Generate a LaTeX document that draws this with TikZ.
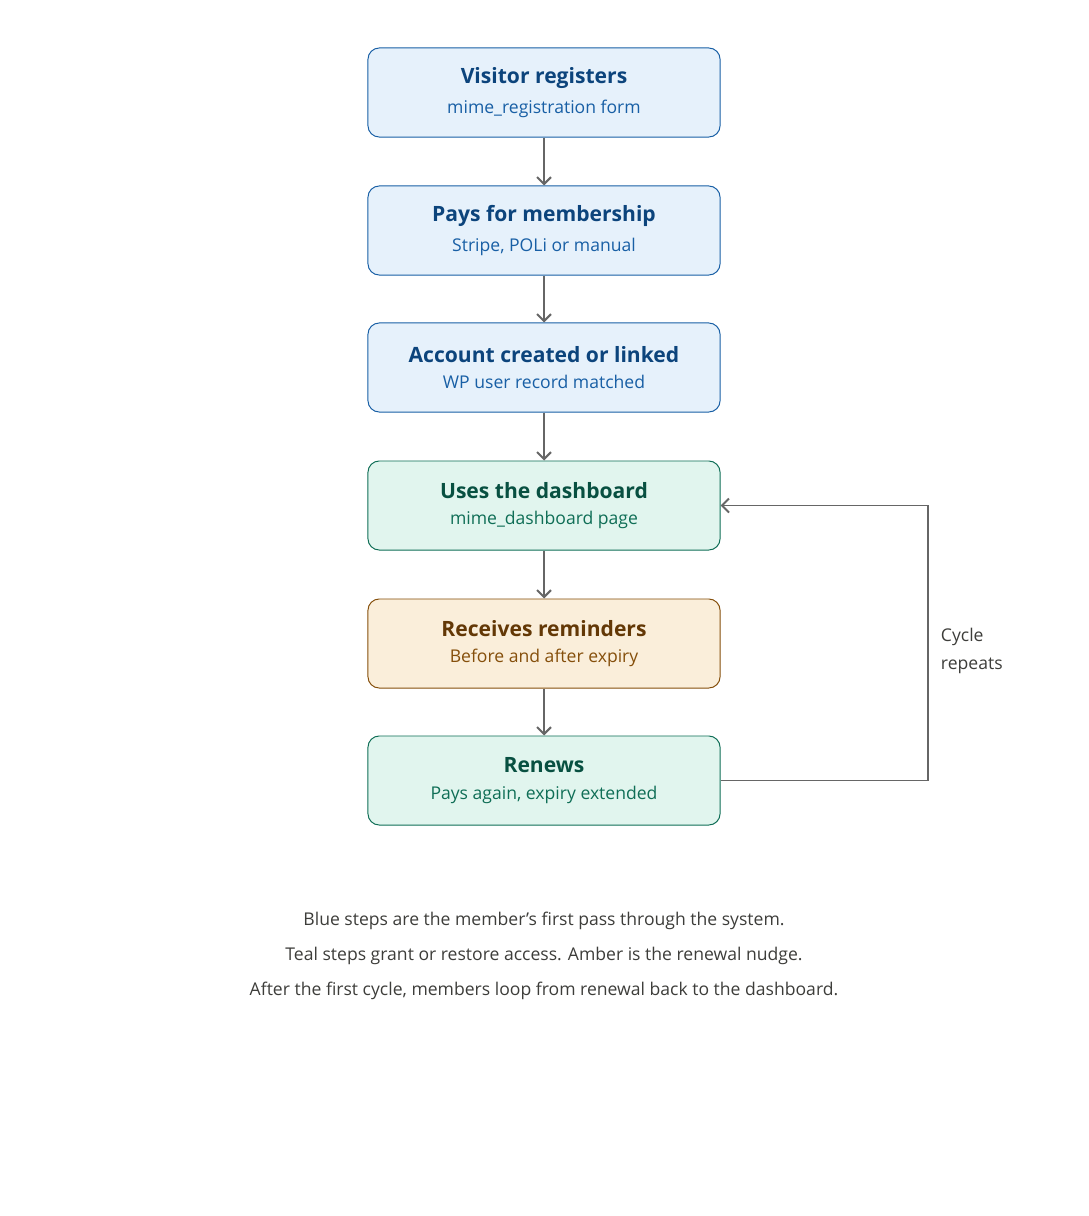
\documentclass[tikz,border=0pt]{standalone}
\usepackage{fontspec}
\setmainfont{Open Sans}
\usetikzlibrary{arrows.meta,positioning}
\definecolor{bluefill}{HTML}{E6F1FB}\definecolor{blueline}{HTML}{185FA5}\definecolor{bluetext}{HTML}{0C447C}
\definecolor{tealfill}{HTML}{E1F5EE}\definecolor{tealline}{HTML}{0F6E56}\definecolor{tealtext}{HTML}{085041}
\definecolor{ambfill}{HTML}{FAEEDA}\definecolor{ambline}{HTML}{854F0B}\definecolor{ambtext}{HTML}{633806}
\definecolor{linkgray}{HTML}{666666}\definecolor{captext}{HTML}{3D3D3A}
\tikzset{
  flowbox/.style={draw, rounded corners=8pt, line width=0.7pt, minimum width=8.8cm, minimum height=2.225cm, align=center},
  bluestep/.style={flowbox, fill=bluefill, draw=blueline},
  tealstep/.style={flowbox, fill=tealfill, draw=tealline},
  ambstep/.style={flowbox, fill=ambfill, draw=ambline},
  link/.style={draw=linkgray, line width=1.4pt, -{Straight Barb[length=5pt,width=10pt]}},
  caption/.style={text=captext, font=\fontsize{12.5}{15}\selectfont}
}
\newcommand{\steptext}[4]{\textcolor{#1}{\fontsize{15}{18}\selectfont\bfseries #3}\\[7pt]\textcolor{#2}{\fontsize{12.5}{15}\selectfont #4}}
\begin{document}
\begin{tikzpicture}[x=0.025cm,y=-0.025cm]
  \useasboundingbox (0,0) rectangle (1088,1216);
  \node[bluestep] (reg) at (544,92.5) {\steptext{bluetext}{blueline}{Visitor registers}{mime\_registration form}};
  \node[bluestep] (pay) at (544,230.5) {\steptext{bluetext}{blueline}{Pays for membership}{Stripe, POLi or manual}};
  \node[bluestep] (acct) at (544,367.5) {\steptext{bluetext}{blueline}{Account created or linked}{WP user record matched}};
  \node[tealstep] (dash) at (544,505.5) {\steptext{tealtext}{tealline}{Uses the dashboard}{mime\_dashboard page}};
  \node[ambstep] (remind) at (544,643.5) {\steptext{ambtext}{ambline}{Receives reminders}{Before and after expiry}};
  \node[tealstep] (renew) at (544,780.5) {\steptext{tealtext}{tealline}{Renews}{Pays again, expiry extended}};
  \draw[link] (reg) -- (pay);
  \draw[link] (pay) -- (acct);
  \draw[link] (acct) -- (dash);
  \draw[link] (dash) -- (remind);
  \draw[link] (remind) -- (renew);
  \coordinate (loopr) at (928,780.5);
  \draw[link] (renew.east) -- (loopr) |- (dash.east);
  \node[caption, anchor=west, align=left] (cyc) at (936,651) {Cycle\\[5pt]repeats};
  % notes under the flow
  \node[caption] (cap1) at (544,921) {Blue steps are the member{\char"0027}s first pass through the system.};
  \node[caption] (cap2) at (544,956) {Teal steps grant or restore access. Amber is the renewal nudge.};
  \node[caption] (cap3) at (544,991) {After the first cycle, members loop from renewal back to the dashboard.};
\end{tikzpicture}
\end{document}
